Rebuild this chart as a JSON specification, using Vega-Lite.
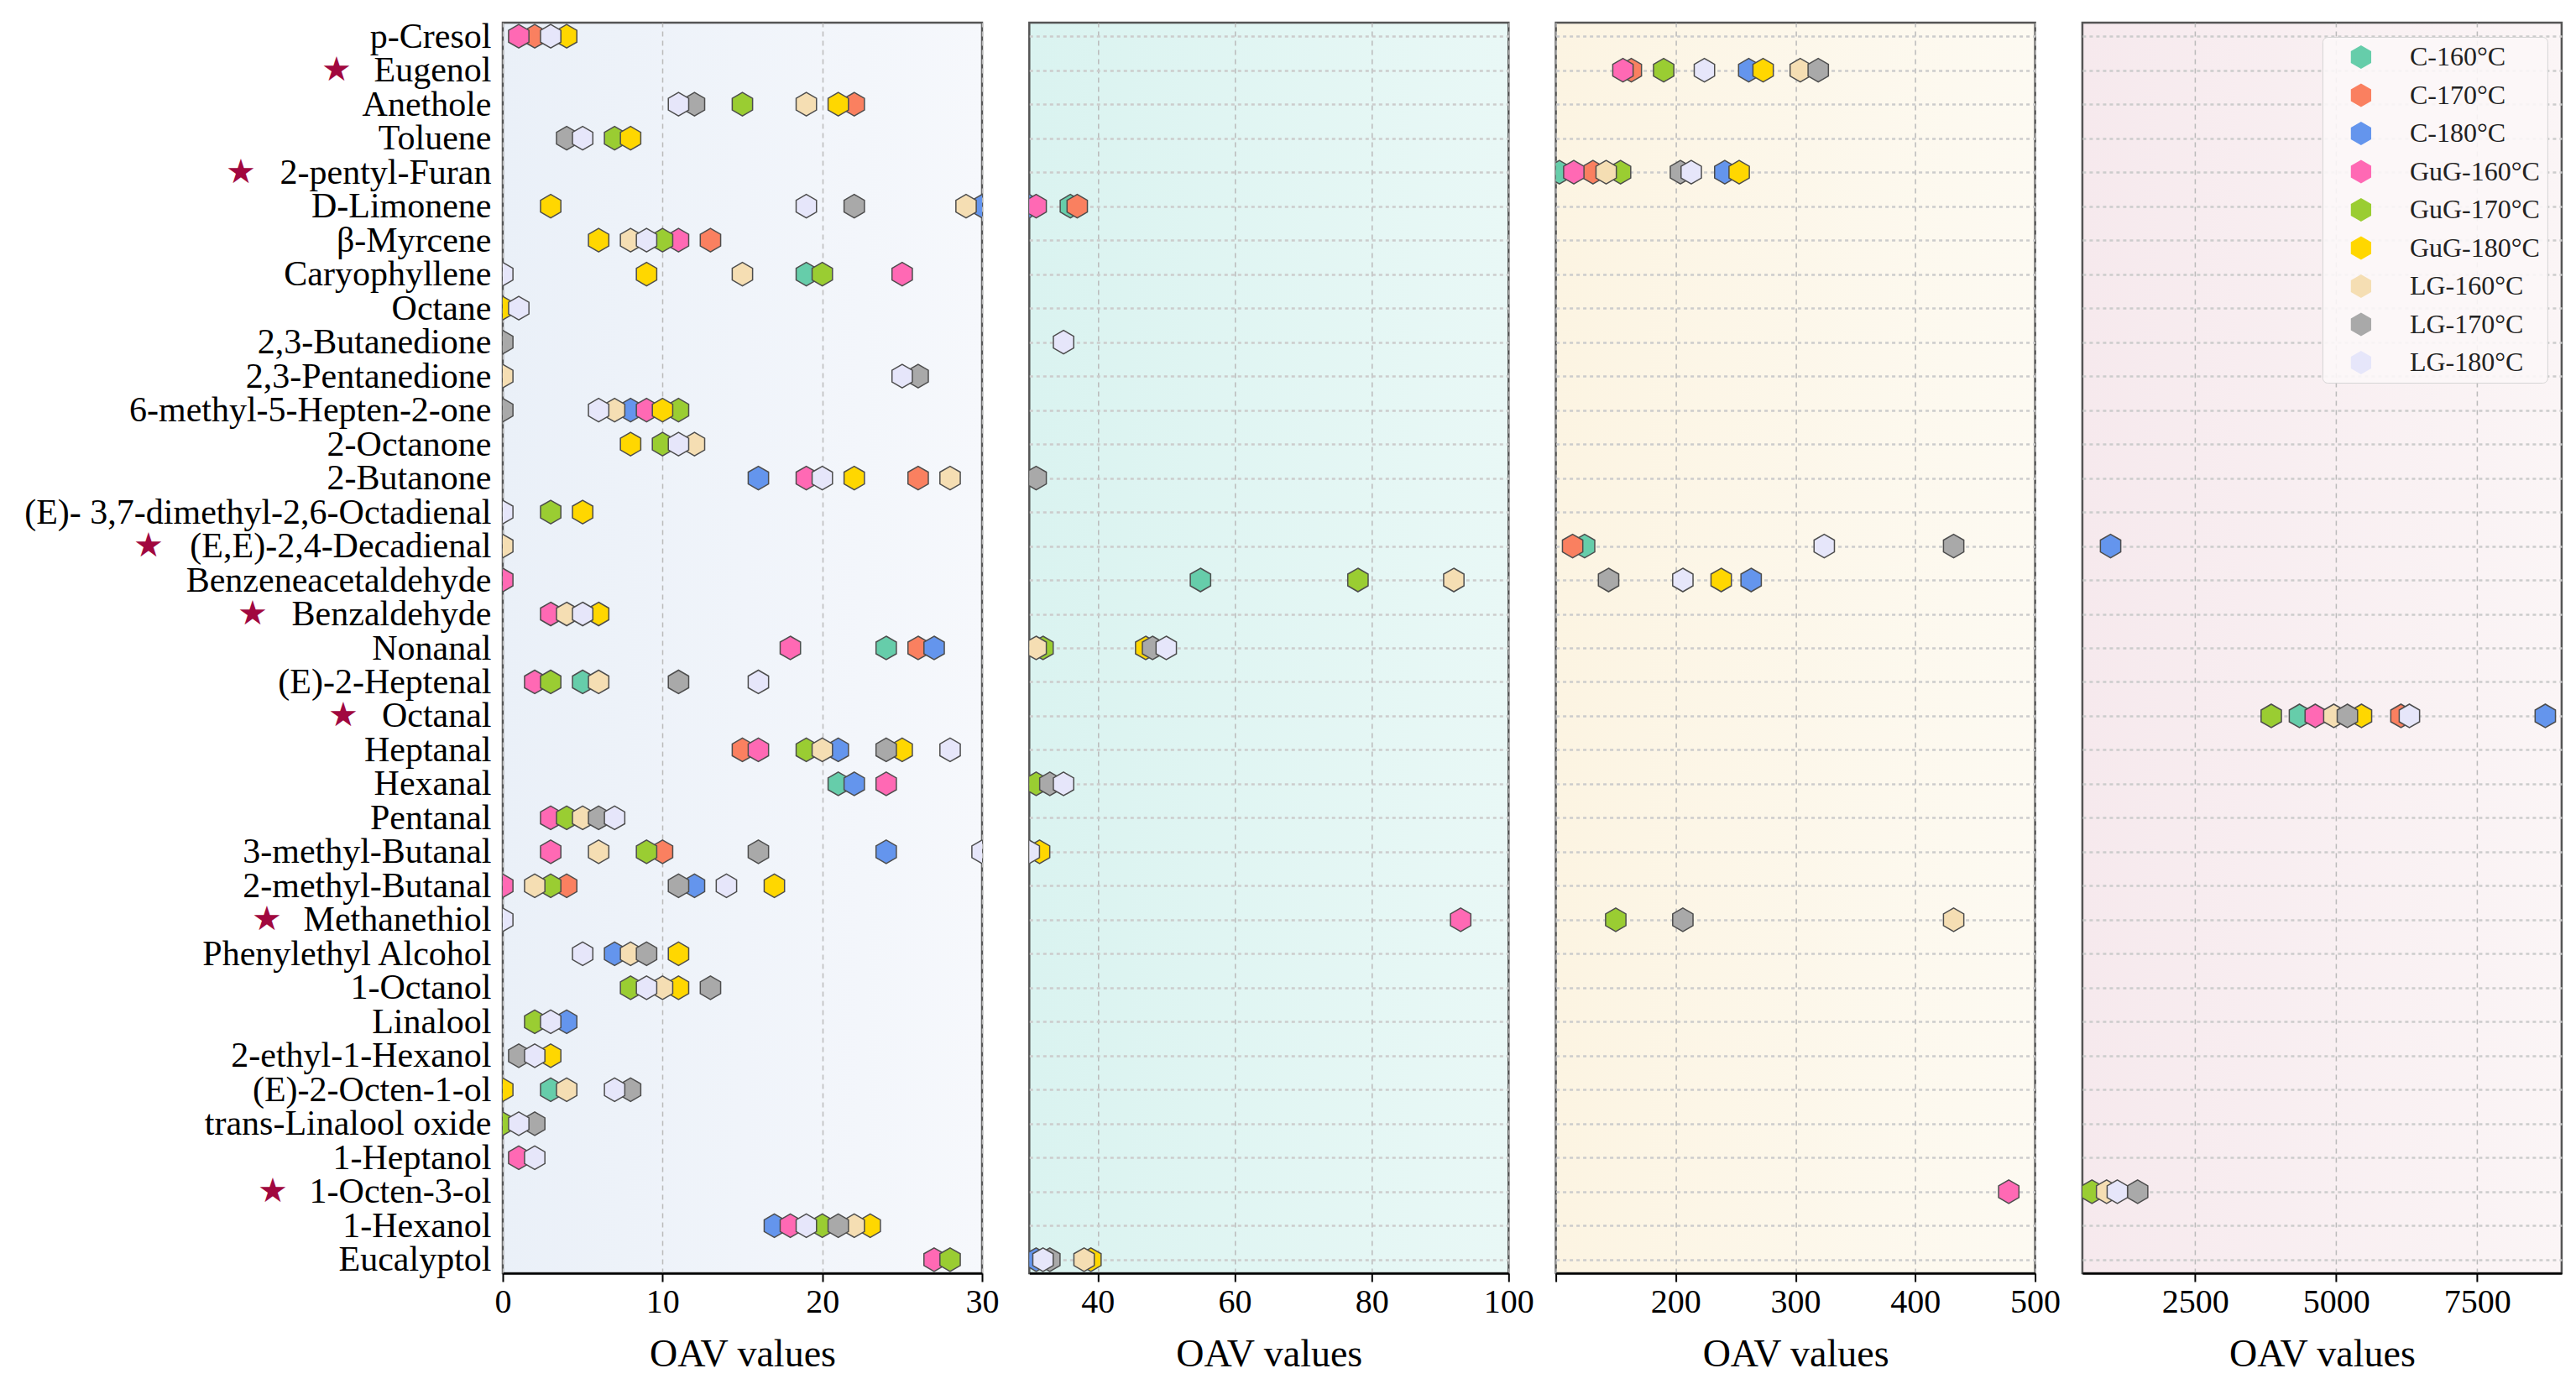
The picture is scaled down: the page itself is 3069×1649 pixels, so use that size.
{
  "$schema": "https://vega.github.io/schema/vega-lite/v6.json",
  "background": "white",
  "padding": {"left": 17, "top": 20, "right": 5, "bottom": 5},
  "config": {
    "font": "Liberation Serif",
    "view": {"stroke": "#555555", "strokeWidth": 2.5},
    "axis": {"labelFont": "Liberation Serif", "titleFont": "Liberation Serif", "labelColor": "black", "titleColor": "black"},
    "axisX": {
      "labelFontSize": 40, "titleFontSize": 46, "titleFontWeight": "normal",
      "labelPadding": 4, "titlePadding": 20,
      "grid": true, "gridDash": [6, 5], "gridColor": "#bbbbbb", "gridWidth": 1.5,
      "domainColor": "black", "domainWidth": 2.5,
      "tickColor": "black", "tickWidth": 2, "tickSize": 10, "labelFlush": false
    },
    "axisY": {
      "grid": true, "gridDash": [4, 4], "gridColor": "#cccccc", "gridWidth": 2.5,
      "domain": false, "ticks": false, "title": null
    }
  },
  "data": {
    "values": [
      {"c": "p-Cresol", "s": "GuG-160°C", "v": 1},
      {"c": "p-Cresol", "s": "C-170°C", "v": 2},
      {"c": "p-Cresol", "s": "LG-180°C", "v": 3},
      {"c": "p-Cresol", "s": "GuG-180°C", "v": 4},
      {"c": "Eugenol", "s": "GuG-160°C", "v": 156},
      {"c": "Eugenol", "s": "C-170°C", "v": 163},
      {"c": "Eugenol", "s": "GuG-170°C", "v": 190},
      {"c": "Eugenol", "s": "LG-180°C", "v": 224},
      {"c": "Eugenol", "s": "C-180°C", "v": 261},
      {"c": "Eugenol", "s": "GuG-180°C", "v": 273},
      {"c": "Eugenol", "s": "LG-160°C", "v": 304},
      {"c": "Eugenol", "s": "LG-170°C", "v": 319},
      {"c": "Anethole", "s": "LG-180°C", "v": 11},
      {"c": "Anethole", "s": "LG-170°C", "v": 12},
      {"c": "Anethole", "s": "GuG-170°C", "v": 15},
      {"c": "Anethole", "s": "LG-160°C", "v": 19},
      {"c": "Anethole", "s": "GuG-180°C", "v": 21},
      {"c": "Anethole", "s": "C-170°C", "v": 22},
      {"c": "Toluene", "s": "LG-170°C", "v": 4},
      {"c": "Toluene", "s": "LG-180°C", "v": 5},
      {"c": "Toluene", "s": "GuG-170°C", "v": 7},
      {"c": "Toluene", "s": "GuG-180°C", "v": 8},
      {"c": "2-pentyl-Furan", "s": "C-160°C", "v": 103},
      {"c": "2-pentyl-Furan", "s": "GuG-160°C", "v": 115},
      {"c": "2-pentyl-Furan", "s": "C-170°C", "v": 131},
      {"c": "2-pentyl-Furan", "s": "LG-160°C", "v": 142},
      {"c": "2-pentyl-Furan", "s": "GuG-170°C", "v": 154},
      {"c": "2-pentyl-Furan", "s": "LG-170°C", "v": 204},
      {"c": "2-pentyl-Furan", "s": "LG-180°C", "v": 213},
      {"c": "2-pentyl-Furan", "s": "C-180°C", "v": 241},
      {"c": "2-pentyl-Furan", "s": "GuG-180°C", "v": 253},
      {"c": "D-Limonene", "s": "GuG-180°C", "v": 3},
      {"c": "D-Limonene", "s": "LG-180°C", "v": 19},
      {"c": "D-Limonene", "s": "LG-170°C", "v": 22},
      {"c": "D-Limonene", "s": "LG-160°C", "v": 29},
      {"c": "D-Limonene", "s": "C-180°C", "v": 30},
      {"c": "D-Limonene", "s": "GuG-160°C", "v": 31},
      {"c": "D-Limonene", "s": "C-160°C", "v": 36},
      {"c": "D-Limonene", "s": "C-170°C", "v": 37},
      {"c": "β-Myrcene", "s": "GuG-180°C", "v": 6},
      {"c": "β-Myrcene", "s": "LG-160°C", "v": 8},
      {"c": "β-Myrcene", "s": "LG-180°C", "v": 9},
      {"c": "β-Myrcene", "s": "GuG-170°C", "v": 10},
      {"c": "β-Myrcene", "s": "GuG-160°C", "v": 11},
      {"c": "β-Myrcene", "s": "C-170°C", "v": 13},
      {"c": "Caryophyllene", "s": "LG-180°C", "v": 0},
      {"c": "Caryophyllene", "s": "GuG-180°C", "v": 9},
      {"c": "Caryophyllene", "s": "LG-160°C", "v": 15},
      {"c": "Caryophyllene", "s": "C-160°C", "v": 19},
      {"c": "Caryophyllene", "s": "GuG-170°C", "v": 20},
      {"c": "Caryophyllene", "s": "GuG-160°C", "v": 25},
      {"c": "Octane", "s": "GuG-180°C", "v": 0},
      {"c": "Octane", "s": "LG-180°C", "v": 1},
      {"c": "2,3-Butanedione", "s": "LG-170°C", "v": 0},
      {"c": "2,3-Butanedione", "s": "LG-180°C", "v": 35},
      {"c": "2,3-Pentanedione", "s": "LG-160°C", "v": 0},
      {"c": "2,3-Pentanedione", "s": "LG-180°C", "v": 25},
      {"c": "2,3-Pentanedione", "s": "LG-170°C", "v": 26},
      {"c": "6-methyl-5-Hepten-2-one", "s": "LG-170°C", "v": 0},
      {"c": "6-methyl-5-Hepten-2-one", "s": "LG-180°C", "v": 6},
      {"c": "6-methyl-5-Hepten-2-one", "s": "LG-160°C", "v": 7},
      {"c": "6-methyl-5-Hepten-2-one", "s": "C-180°C", "v": 8},
      {"c": "6-methyl-5-Hepten-2-one", "s": "GuG-160°C", "v": 9},
      {"c": "6-methyl-5-Hepten-2-one", "s": "GuG-180°C", "v": 10},
      {"c": "6-methyl-5-Hepten-2-one", "s": "GuG-170°C", "v": 11},
      {"c": "2-Octanone", "s": "GuG-180°C", "v": 8},
      {"c": "2-Octanone", "s": "GuG-170°C", "v": 10},
      {"c": "2-Octanone", "s": "LG-180°C", "v": 11},
      {"c": "2-Octanone", "s": "LG-160°C", "v": 12},
      {"c": "2-Butanone", "s": "C-180°C", "v": 16},
      {"c": "2-Butanone", "s": "GuG-160°C", "v": 19},
      {"c": "2-Butanone", "s": "LG-180°C", "v": 20},
      {"c": "2-Butanone", "s": "GuG-180°C", "v": 22},
      {"c": "2-Butanone", "s": "C-170°C", "v": 26},
      {"c": "2-Butanone", "s": "LG-160°C", "v": 28},
      {"c": "2-Butanone", "s": "LG-170°C", "v": 31},
      {"c": "(E)- 3,7-dimethyl-2,6-Octadienal", "s": "LG-180°C", "v": 0},
      {"c": "(E)- 3,7-dimethyl-2,6-Octadienal", "s": "GuG-170°C", "v": 3},
      {"c": "(E)- 3,7-dimethyl-2,6-Octadienal", "s": "GuG-180°C", "v": 5},
      {"c": "(E,E)-2,4-Decadienal", "s": "LG-160°C", "v": 0},
      {"c": "(E,E)-2,4-Decadienal", "s": "C-170°C", "v": 114},
      {"c": "(E,E)-2,4-Decadienal", "s": "C-160°C", "v": 124},
      {"c": "(E,E)-2,4-Decadienal", "s": "LG-180°C", "v": 324},
      {"c": "(E,E)-2,4-Decadienal", "s": "LG-170°C", "v": 432},
      {"c": "(E,E)-2,4-Decadienal", "s": "C-180°C", "v": 1000},
      {"c": "Benzeneacetaldehyde", "s": "GuG-160°C", "v": 0},
      {"c": "Benzeneacetaldehyde", "s": "C-160°C", "v": 55},
      {"c": "Benzeneacetaldehyde", "s": "GuG-170°C", "v": 78},
      {"c": "Benzeneacetaldehyde", "s": "LG-160°C", "v": 92},
      {"c": "Benzeneacetaldehyde", "s": "LG-170°C", "v": 144},
      {"c": "Benzeneacetaldehyde", "s": "LG-180°C", "v": 206},
      {"c": "Benzeneacetaldehyde", "s": "GuG-180°C", "v": 238},
      {"c": "Benzeneacetaldehyde", "s": "C-180°C", "v": 263},
      {"c": "Benzaldehyde", "s": "GuG-160°C", "v": 3},
      {"c": "Benzaldehyde", "s": "LG-160°C", "v": 4},
      {"c": "Benzaldehyde", "s": "LG-180°C", "v": 5},
      {"c": "Benzaldehyde", "s": "GuG-180°C", "v": 6},
      {"c": "Nonanal", "s": "GuG-160°C", "v": 18},
      {"c": "Nonanal", "s": "C-160°C", "v": 24},
      {"c": "Nonanal", "s": "C-170°C", "v": 26},
      {"c": "Nonanal", "s": "C-180°C", "v": 27},
      {"c": "Nonanal", "s": "LG-160°C", "v": 31},
      {"c": "Nonanal", "s": "GuG-170°C", "v": 32},
      {"c": "Nonanal", "s": "GuG-180°C", "v": 47},
      {"c": "Nonanal", "s": "LG-170°C", "v": 48},
      {"c": "Nonanal", "s": "LG-180°C", "v": 50},
      {"c": "(E)-2-Heptenal", "s": "GuG-160°C", "v": 2},
      {"c": "(E)-2-Heptenal", "s": "GuG-170°C", "v": 3},
      {"c": "(E)-2-Heptenal", "s": "C-160°C", "v": 5},
      {"c": "(E)-2-Heptenal", "s": "LG-160°C", "v": 6},
      {"c": "(E)-2-Heptenal", "s": "LG-170°C", "v": 11},
      {"c": "(E)-2-Heptenal", "s": "LG-180°C", "v": 16},
      {"c": "Octanal", "s": "GuG-170°C", "v": 3850},
      {"c": "Octanal", "s": "C-160°C", "v": 4350},
      {"c": "Octanal", "s": "GuG-160°C", "v": 4630},
      {"c": "Octanal", "s": "LG-160°C", "v": 4960},
      {"c": "Octanal", "s": "LG-170°C", "v": 5200},
      {"c": "Octanal", "s": "GuG-180°C", "v": 5450},
      {"c": "Octanal", "s": "C-170°C", "v": 6150},
      {"c": "Octanal", "s": "LG-180°C", "v": 6300},
      {"c": "Octanal", "s": "C-180°C", "v": 8710},
      {"c": "Heptanal", "s": "C-170°C", "v": 15},
      {"c": "Heptanal", "s": "GuG-160°C", "v": 16},
      {"c": "Heptanal", "s": "GuG-170°C", "v": 19},
      {"c": "Heptanal", "s": "LG-160°C", "v": 20},
      {"c": "Heptanal", "s": "C-180°C", "v": 21},
      {"c": "Heptanal", "s": "LG-170°C", "v": 24},
      {"c": "Heptanal", "s": "GuG-180°C", "v": 25},
      {"c": "Heptanal", "s": "LG-180°C", "v": 28},
      {"c": "Hexanal", "s": "C-160°C", "v": 21},
      {"c": "Hexanal", "s": "C-180°C", "v": 22},
      {"c": "Hexanal", "s": "GuG-160°C", "v": 24},
      {"c": "Hexanal", "s": "GuG-170°C", "v": 31},
      {"c": "Hexanal", "s": "LG-170°C", "v": 33},
      {"c": "Hexanal", "s": "LG-180°C", "v": 35},
      {"c": "Pentanal", "s": "GuG-160°C", "v": 3},
      {"c": "Pentanal", "s": "GuG-170°C", "v": 4},
      {"c": "Pentanal", "s": "LG-160°C", "v": 5},
      {"c": "Pentanal", "s": "LG-170°C", "v": 6},
      {"c": "Pentanal", "s": "LG-180°C", "v": 7},
      {"c": "3-methyl-Butanal", "s": "GuG-160°C", "v": 3},
      {"c": "3-methyl-Butanal", "s": "LG-160°C", "v": 6},
      {"c": "3-methyl-Butanal", "s": "GuG-170°C", "v": 9},
      {"c": "3-methyl-Butanal", "s": "C-170°C", "v": 10},
      {"c": "3-methyl-Butanal", "s": "LG-170°C", "v": 16},
      {"c": "3-methyl-Butanal", "s": "C-180°C", "v": 24},
      {"c": "3-methyl-Butanal", "s": "LG-180°C", "v": 30},
      {"c": "3-methyl-Butanal", "s": "GuG-180°C", "v": 31.5},
      {"c": "2-methyl-Butanal", "s": "GuG-160°C", "v": 0},
      {"c": "2-methyl-Butanal", "s": "LG-160°C", "v": 2},
      {"c": "2-methyl-Butanal", "s": "GuG-170°C", "v": 3},
      {"c": "2-methyl-Butanal", "s": "C-170°C", "v": 4},
      {"c": "2-methyl-Butanal", "s": "LG-170°C", "v": 11},
      {"c": "2-methyl-Butanal", "s": "C-180°C", "v": 12},
      {"c": "2-methyl-Butanal", "s": "LG-180°C", "v": 14},
      {"c": "2-methyl-Butanal", "s": "GuG-180°C", "v": 17},
      {"c": "Methanethiol", "s": "LG-180°C", "v": 0},
      {"c": "Methanethiol", "s": "GuG-160°C", "v": 93},
      {"c": "Methanethiol", "s": "GuG-170°C", "v": 150},
      {"c": "Methanethiol", "s": "LG-170°C", "v": 206},
      {"c": "Methanethiol", "s": "LG-160°C", "v": 432},
      {"c": "Phenylethyl Alcohol", "s": "LG-180°C", "v": 5},
      {"c": "Phenylethyl Alcohol", "s": "C-180°C", "v": 7},
      {"c": "Phenylethyl Alcohol", "s": "LG-160°C", "v": 8},
      {"c": "Phenylethyl Alcohol", "s": "LG-170°C", "v": 9},
      {"c": "Phenylethyl Alcohol", "s": "GuG-180°C", "v": 11},
      {"c": "1-Octanol", "s": "GuG-170°C", "v": 8},
      {"c": "1-Octanol", "s": "LG-180°C", "v": 9},
      {"c": "1-Octanol", "s": "LG-160°C", "v": 10},
      {"c": "1-Octanol", "s": "GuG-180°C", "v": 11},
      {"c": "1-Octanol", "s": "LG-170°C", "v": 13},
      {"c": "Linalool", "s": "GuG-170°C", "v": 2},
      {"c": "Linalool", "s": "LG-180°C", "v": 3},
      {"c": "Linalool", "s": "C-180°C", "v": 4},
      {"c": "2-ethyl-1-Hexanol", "s": "LG-170°C", "v": 1},
      {"c": "2-ethyl-1-Hexanol", "s": "LG-180°C", "v": 2},
      {"c": "2-ethyl-1-Hexanol", "s": "GuG-180°C", "v": 3},
      {"c": "(E)-2-Octen-1-ol", "s": "GuG-180°C", "v": 0},
      {"c": "(E)-2-Octen-1-ol", "s": "C-160°C", "v": 3},
      {"c": "(E)-2-Octen-1-ol", "s": "LG-160°C", "v": 4},
      {"c": "(E)-2-Octen-1-ol", "s": "LG-180°C", "v": 7},
      {"c": "(E)-2-Octen-1-ol", "s": "LG-170°C", "v": 8},
      {"c": "trans-Linalool oxide", "s": "GuG-170°C", "v": 0},
      {"c": "trans-Linalool oxide", "s": "LG-180°C", "v": 1},
      {"c": "trans-Linalool oxide", "s": "LG-170°C", "v": 2},
      {"c": "1-Heptanol", "s": "GuG-160°C", "v": 1},
      {"c": "1-Heptanol", "s": "LG-180°C", "v": 2},
      {"c": "1-Octen-3-ol", "s": "GuG-160°C", "v": 478},
      {"c": "1-Octen-3-ol", "s": "GuG-170°C", "v": 670},
      {"c": "1-Octen-3-ol", "s": "LG-160°C", "v": 930},
      {"c": "1-Octen-3-ol", "s": "LG-180°C", "v": 1120},
      {"c": "1-Octen-3-ol", "s": "LG-170°C", "v": 1480},
      {"c": "1-Hexanol", "s": "C-180°C", "v": 17},
      {"c": "1-Hexanol", "s": "GuG-160°C", "v": 18},
      {"c": "1-Hexanol", "s": "LG-180°C", "v": 19},
      {"c": "1-Hexanol", "s": "GuG-170°C", "v": 20},
      {"c": "1-Hexanol", "s": "LG-170°C", "v": 21},
      {"c": "1-Hexanol", "s": "LG-160°C", "v": 22},
      {"c": "1-Hexanol", "s": "GuG-180°C", "v": 23},
      {"c": "Eucalyptol", "s": "GuG-160°C", "v": 27},
      {"c": "Eucalyptol", "s": "GuG-170°C", "v": 28},
      {"c": "Eucalyptol", "s": "C-180°C", "v": 31},
      {"c": "Eucalyptol", "s": "LG-180°C", "v": 32},
      {"c": "Eucalyptol", "s": "LG-170°C", "v": 33},
      {"c": "Eucalyptol", "s": "LG-160°C", "v": 38},
      {"c": "Eucalyptol", "s": "GuG-180°C", "v": 39}
    ]
  },
  "bounds": "flush",
  "spacing": 56.3,
  "resolve": {"scale": {"x": "independent", "y": "independent", "color": "independent"}},
  "hconcat": [
    {
      "width": 571,
      "height": 1490,
      "view": {"fill": {"gradient": "linear", "x1": 0, "y1": 0, "x2": 1, "y2": 0, "stops": [{"offset": 0, "color": "#eaf0f8"}, {"offset": 1, "color": "#f6f8fc"}]}},
      "resolve": {"axis": {"y": "independent"}},
      "layer": [
        {
          "mark": {"type": "point", "opacity": 0},
          "encoding": {
            "y": {
              "field": "c", "type": "nominal",
              "scale": {"padding": 0.4, "domain": ["p-Cresol", "Eugenol", "Anethole", "Toluene", "2-pentyl-Furan", "D-Limonene", "β-Myrcene", "Caryophyllene", "Octane", "2,3-Butanedione", "2,3-Pentanedione", "6-methyl-5-Hepten-2-one", "2-Octanone", "2-Butanone", "(E)- 3,7-dimethyl-2,6-Octadienal", "(E,E)-2,4-Decadienal", "Benzeneacetaldehyde", "Benzaldehyde", "Nonanal", "(E)-2-Heptenal", "Octanal", "Heptanal", "Hexanal", "Pentanal", "3-methyl-Butanal", "2-methyl-Butanal", "Methanethiol", "Phenylethyl Alcohol", "1-Octanol", "Linalool", "2-ethyl-1-Hexanol", "(E)-2-Octen-1-ol", "trans-Linalool oxide", "1-Heptanol", "1-Octen-3-ol", "1-Hexanol", "Eucalyptol"]},
              "axis": {
                "orient": "left", "grid": false, "title": null,
                "values": ["Eugenol", "2-pentyl-Furan", "(E,E)-2,4-Decadienal", "Benzaldehyde", "Octanal", "Methanethiol", "1-Octen-3-ol"],
                "labelExpr": "'★'",
                "labelColor": "#a1083f", "labelFontSize": 40, "labelLimit": 0,
                "labelPadding": {
                  "condition": [
                    {"test": "datum.value == 'Eugenol'", "value": 181},
                    {"test": "datum.value == '2-pentyl-Furan'", "value": 295},
                    {"test": "datum.value == '(E,E)-2,4-Decadienal'", "value": 405},
                    {"test": "datum.value == 'Benzaldehyde'", "value": 281},
                    {"test": "datum.value == 'Octanal'", "value": 173},
                    {"test": "datum.value == 'Methanethiol'", "value": 264},
                    {"test": "datum.value == '1-Octen-3-ol'", "value": 257}
                  ],
                  "value": 14
                },
                "minExtent": 580, "maxExtent": 580
              }
            }
          }
        },
        {
          "transform": [{"filter": "datum.v <= 30"}],
          "mark": {"type": "point", "shape": "M0,-1L0.866,-0.5L0.866,0.5L0,1L-0.866,0.5L-0.866,-0.5Z", "size": 784, "filled": true, "opacity": 1, "stroke": "#4d4d4d", "strokeWidth": 1.5, "clip": true},
          "encoding": {
            "x": {"field": "v", "type": "quantitative", "scale": {"domain": [0, 30], "nice": false, "zero": false}, "axis": {"values": [0, 10, 20, 30], "title": "OAV values"}},
            "y": {
              "field": "c", "type": "nominal",
              "scale": {"padding": 0.4, "domain": ["p-Cresol", "Eugenol", "Anethole", "Toluene", "2-pentyl-Furan", "D-Limonene", "β-Myrcene", "Caryophyllene", "Octane", "2,3-Butanedione", "2,3-Pentanedione", "6-methyl-5-Hepten-2-one", "2-Octanone", "2-Butanone", "(E)- 3,7-dimethyl-2,6-Octadienal", "(E,E)-2,4-Decadienal", "Benzeneacetaldehyde", "Benzaldehyde", "Nonanal", "(E)-2-Heptenal", "Octanal", "Heptanal", "Hexanal", "Pentanal", "3-methyl-Butanal", "2-methyl-Butanal", "Methanethiol", "Phenylethyl Alcohol", "1-Octanol", "Linalool", "2-ethyl-1-Hexanol", "(E)-2-Octen-1-ol", "trans-Linalool oxide", "1-Heptanol", "1-Octen-3-ol", "1-Hexanol", "Eucalyptol"]},
              "axis": {"orient": "left", "labelFontSize": 42, "labelPadding": 14, "labelLimit": 0, "minExtent": 580, "maxExtent": 580}
            },
            "color": {"field": "s", "type": "nominal", "scale": {"domain": ["C-160°C", "C-170°C", "C-180°C", "GuG-160°C", "GuG-170°C", "GuG-180°C", "LG-160°C", "LG-170°C", "LG-180°C"], "range": ["#66CDAA", "#FA8060", "#6495ED", "#FF69B4", "#9ACD32", "#FFD700", "#F5DEB3", "#A9A9A9", "#E6E6FA"]}, "legend": null},
            "order": {"field": "s"}
          }
        }
      ]
    },
    {
      "width": 571,
      "height": 1490,
      "view": {"fill": {"gradient": "linear", "x1": 0, "y1": 0, "x2": 1, "y2": 0, "stops": [{"offset": 0, "color": "#daf3f0"}, {"offset": 1, "color": "#e9f8f6"}]}},
      "transform": [{"filter": "datum.v >= 30 && datum.v <= 100"}],
      "mark": {"type": "point", "shape": "M0,-1L0.866,-0.5L0.866,0.5L0,1L-0.866,0.5L-0.866,-0.5Z", "size": 784, "filled": true, "opacity": 1, "stroke": "#4d4d4d", "strokeWidth": 1.5, "clip": true},
      "encoding": {
        "x": {"field": "v", "type": "quantitative", "scale": {"domain": [30, 100], "nice": false, "zero": false}, "axis": {"values": [40, 60, 80, 100], "title": "OAV values"}},
        "y": {
          "field": "c", "type": "nominal",
          "scale": {"padding": 0.4, "domain": ["p-Cresol", "Eugenol", "Anethole", "Toluene", "2-pentyl-Furan", "D-Limonene", "β-Myrcene", "Caryophyllene", "Octane", "2,3-Butanedione", "2,3-Pentanedione", "6-methyl-5-Hepten-2-one", "2-Octanone", "2-Butanone", "(E)- 3,7-dimethyl-2,6-Octadienal", "(E,E)-2,4-Decadienal", "Benzeneacetaldehyde", "Benzaldehyde", "Nonanal", "(E)-2-Heptenal", "Octanal", "Heptanal", "Hexanal", "Pentanal", "3-methyl-Butanal", "2-methyl-Butanal", "Methanethiol", "Phenylethyl Alcohol", "1-Octanol", "Linalool", "2-ethyl-1-Hexanol", "(E)-2-Octen-1-ol", "trans-Linalool oxide", "1-Heptanol", "1-Octen-3-ol", "1-Hexanol", "Eucalyptol"]},
          "axis": {"labels": false, "minExtent": 0, "maxExtent": 0}
        },
        "color": {"field": "s", "type": "nominal", "scale": {"domain": ["C-160°C", "C-170°C", "C-180°C", "GuG-160°C", "GuG-170°C", "GuG-180°C", "LG-160°C", "LG-170°C", "LG-180°C"], "range": ["#66CDAA", "#FA8060", "#6495ED", "#FF69B4", "#9ACD32", "#FFD700", "#F5DEB3", "#A9A9A9", "#E6E6FA"]}, "legend": null},
        "order": {"field": "s"}
      }
    },
    {
      "width": 571,
      "height": 1490,
      "view": {"fill": {"gradient": "linear", "x1": 0, "y1": 0, "x2": 1, "y2": 0, "stops": [{"offset": 0, "color": "#fcf4e2"}, {"offset": 1, "color": "#fdfaf2"}]}},
      "transform": [{"filter": "datum.v >= 100 && datum.v <= 500"}],
      "mark": {"type": "point", "shape": "M0,-1L0.866,-0.5L0.866,0.5L0,1L-0.866,0.5L-0.866,-0.5Z", "size": 784, "filled": true, "opacity": 1, "stroke": "#4d4d4d", "strokeWidth": 1.5, "clip": true},
      "encoding": {
        "x": {"field": "v", "type": "quantitative", "scale": {"domain": [100, 500], "nice": false, "zero": false}, "axis": {"values": [100, 200, 300, 400, 500], "labelExpr": "datum.value == 100 ? '' : datum.label", "title": "OAV values"}},
        "y": {
          "field": "c", "type": "nominal",
          "scale": {"padding": 0.4, "domain": ["p-Cresol", "Eugenol", "Anethole", "Toluene", "2-pentyl-Furan", "D-Limonene", "β-Myrcene", "Caryophyllene", "Octane", "2,3-Butanedione", "2,3-Pentanedione", "6-methyl-5-Hepten-2-one", "2-Octanone", "2-Butanone", "(E)- 3,7-dimethyl-2,6-Octadienal", "(E,E)-2,4-Decadienal", "Benzeneacetaldehyde", "Benzaldehyde", "Nonanal", "(E)-2-Heptenal", "Octanal", "Heptanal", "Hexanal", "Pentanal", "3-methyl-Butanal", "2-methyl-Butanal", "Methanethiol", "Phenylethyl Alcohol", "1-Octanol", "Linalool", "2-ethyl-1-Hexanol", "(E)-2-Octen-1-ol", "trans-Linalool oxide", "1-Heptanol", "1-Octen-3-ol", "1-Hexanol", "Eucalyptol"]},
          "axis": {"labels": false, "minExtent": 0, "maxExtent": 0}
        },
        "color": {"field": "s", "type": "nominal", "scale": {"domain": ["C-160°C", "C-170°C", "C-180°C", "GuG-160°C", "GuG-170°C", "GuG-180°C", "LG-160°C", "LG-170°C", "LG-180°C"], "range": ["#66CDAA", "#FA8060", "#6495ED", "#FF69B4", "#9ACD32", "#FFD700", "#F5DEB3", "#A9A9A9", "#E6E6FA"]}, "legend": null},
        "order": {"field": "s"}
      }
    },
    {
      "width": 571,
      "height": 1490,
      "view": {"fill": {"gradient": "linear", "x1": 0, "y1": 0, "x2": 1, "y2": 0, "stops": [{"offset": 0, "color": "#f6e9ed"}, {"offset": 1, "color": "#fbf5f6"}]}},
      "transform": [{"filter": "datum.v >= 500"}],
      "mark": {"type": "point", "shape": "M0,-1L0.866,-0.5L0.866,0.5L0,1L-0.866,0.5L-0.866,-0.5Z", "size": 784, "filled": true, "opacity": 1, "stroke": "#4d4d4d", "strokeWidth": 1.5, "clip": true},
      "encoding": {
        "x": {"field": "v", "type": "quantitative", "scale": {"domain": [500, 9000], "nice": false, "zero": false}, "axis": {"values": [2500, 5000, 7500], "format": "d", "title": "OAV values"}},
        "y": {
          "field": "c", "type": "nominal",
          "scale": {"padding": 0.4, "domain": ["p-Cresol", "Eugenol", "Anethole", "Toluene", "2-pentyl-Furan", "D-Limonene", "β-Myrcene", "Caryophyllene", "Octane", "2,3-Butanedione", "2,3-Pentanedione", "6-methyl-5-Hepten-2-one", "2-Octanone", "2-Butanone", "(E)- 3,7-dimethyl-2,6-Octadienal", "(E,E)-2,4-Decadienal", "Benzeneacetaldehyde", "Benzaldehyde", "Nonanal", "(E)-2-Heptenal", "Octanal", "Heptanal", "Hexanal", "Pentanal", "3-methyl-Butanal", "2-methyl-Butanal", "Methanethiol", "Phenylethyl Alcohol", "1-Octanol", "Linalool", "2-ethyl-1-Hexanol", "(E)-2-Octen-1-ol", "trans-Linalool oxide", "1-Heptanol", "1-Octen-3-ol", "1-Hexanol", "Eucalyptol"]},
          "axis": {"labels": false, "minExtent": 0, "maxExtent": 0}
        },
        "color": {
          "field": "s", "type": "nominal",
          "scale": {"domain": ["C-160°C", "C-170°C", "C-180°C", "GuG-160°C", "GuG-170°C", "GuG-180°C", "LG-160°C", "LG-170°C", "LG-180°C"], "range": ["#66CDAA", "#FA8060", "#6495ED", "#FF69B4", "#9ACD32", "#FFD700", "#F5DEB3", "#A9A9A9", "#E6E6FA"]},
          "legend": {
            "orient": "top-right", "offset": 17, "title": null,
            "symbolType": "M0,-1L0.866,-0.5L0.866,0.5L0,1L-0.866,0.5L-0.866,-0.5Z", "symbolSize": 784, "symbolStrokeWidth": 0, "symbolOpacity": 1,
            "labelFont": "Liberation Serif", "labelFontSize": 32, "labelColor": "#222222", "labelOffset": 42, "symbolOffset": 22,
            "rowPadding": 13.5, "padding": 8,
            "fillColor": "rgba(252,247,248,0.9)", "strokeColor": "#d5d5d5", "cornerRadius": 6
          }
        },
        "order": {"field": "s"}
      }
    }
  ]
}
